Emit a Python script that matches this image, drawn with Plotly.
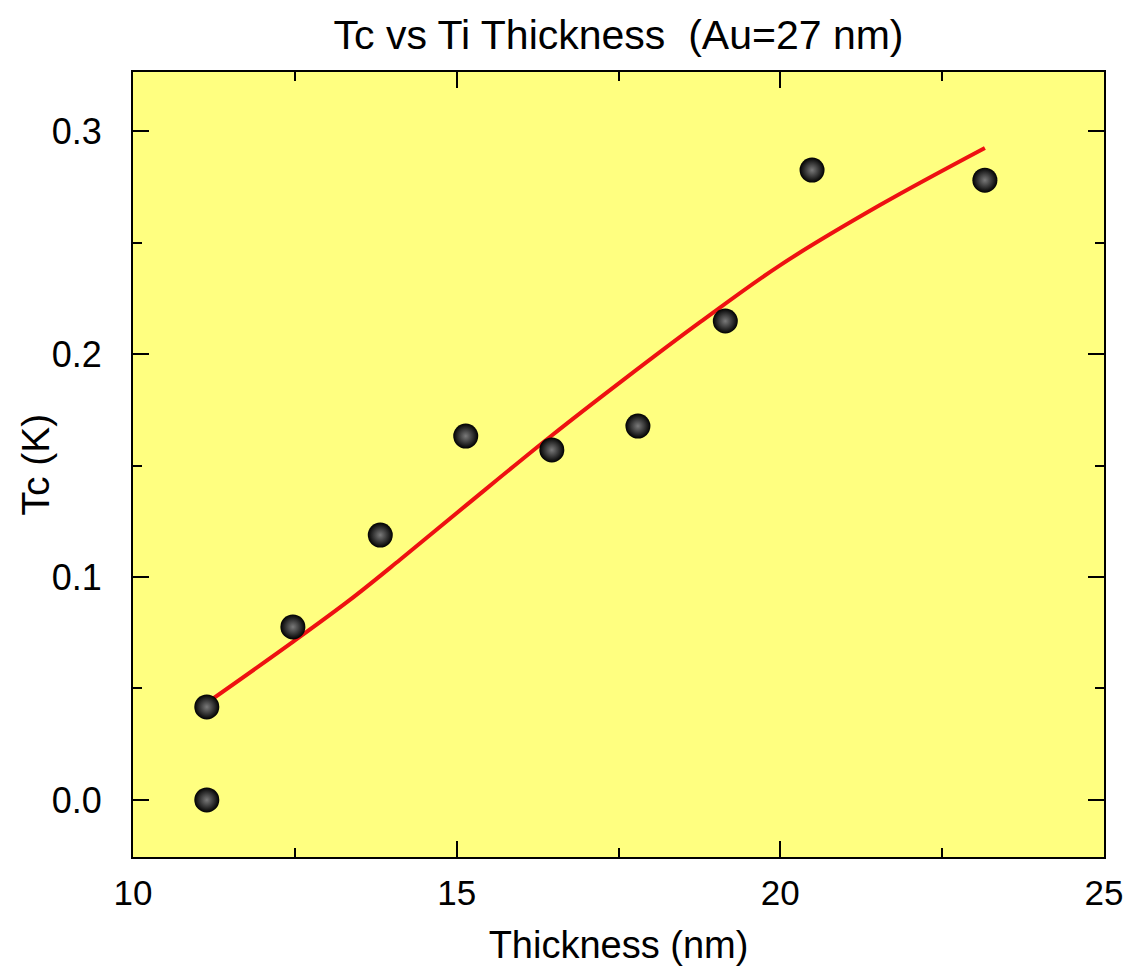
import plotly.graph_objects as go

# Measured data
thickness = [11.14, 11.14, 12.47, 13.82, 15.14, 16.47, 17.80, 19.15, 20.49, 23.16]
tc = [0.0, 0.0417, 0.0776, 0.1188, 0.1632, 0.1570, 0.1677, 0.2148, 0.2825, 0.2780]

# Fit curve
fit_x = [11.14, 12.47, 13.35, 14.12, 15.14, 16.44, 17.57, 18.76, 20.00, 21.54, 23.16]
fit_y = [0.0435, 0.0709, 0.0897, 0.1076, 0.1320, 0.1628, 0.1883, 0.2143, 0.2399, 0.2668, 0.2924]

x_ticks = [10, 15, 20, 25]
y_ticks = [0.0, 0.1, 0.2, 0.3]
y_tick_text = ["0.0", "0.1", "0.2", "0.3"]

FONT = "Liberation Sans, Arial, sans-serif"

fig = go.Figure()
fig.add_trace(go.Scatter(
    x=fit_x, y=fit_y, mode="lines",
    line=dict(color="#EE1111", width=4, shape="spline", smoothing=1.0),
    showlegend=False, hoverinfo="skip"))
fig.add_trace(go.Scatter(
    x=thickness, y=tc, mode="markers",
    marker=dict(size=25, color="#000000",
                gradient=dict(type="radial", color="#7a7a7a"),
                line=dict(width=0)),
    showlegend=False))

axis_common = dict(
    showgrid=False, zeroline=False, showline=True, linecolor="black", linewidth=2,
    mirror="ticks", ticks="inside", ticklen=16, tickwidth=2, tickcolor="black",
    automargin=False,
)

fig.update_xaxes(
    range=[10, 25], tickvals=x_ticks, ticktext=[str(v) for v in x_ticks],
    tickfont=dict(family=FONT, size=35, color="black"),
    title=dict(text="Thickness (nm)", font=dict(family=FONT, size=38, color="black"), standoff=20),
    minor=dict(dtick=2.5, tick0=10, ticks="inside", ticklen=9, tickwidth=2, tickcolor="black"),
    ticklabelstandoff=4,
    **axis_common)
fig.update_yaxes(
    range=[-0.0256, 0.3265], tickvals=y_ticks, ticktext=y_tick_text,
    tickfont=dict(family=FONT, size=36, color="black"),
    minor=dict(dtick=0.05, tick0=0, ticks="inside", ticklen=9, tickwidth=2, tickcolor="black"),
    ticklabelstandoff=22,
    **axis_common)

fig.add_annotation(
    text="Tc (K)", xref="paper", yref="paper", x=(35 - 133) / 971, y=0.5,
    xanchor="center", yanchor="middle", textangle=-90, showarrow=False,
    font=dict(family=FONT, size=39, color="black"))

fig.update_layout(
    width=1127, height=973,
    margin=dict(l=133, r=23, t=72, b=116),
    paper_bgcolor="white", plot_bgcolor="#FFFF80",
    title=dict(text="Tc vs Ti Thickness  (Au=27 nm)", x=0.5 * (133 + 1104) / 1127, xanchor="center",
               y=1 - 35 / 973, yanchor="middle",
               font=dict(family=FONT, size=41, color="black")),
)

fig.write_html("out.html")
